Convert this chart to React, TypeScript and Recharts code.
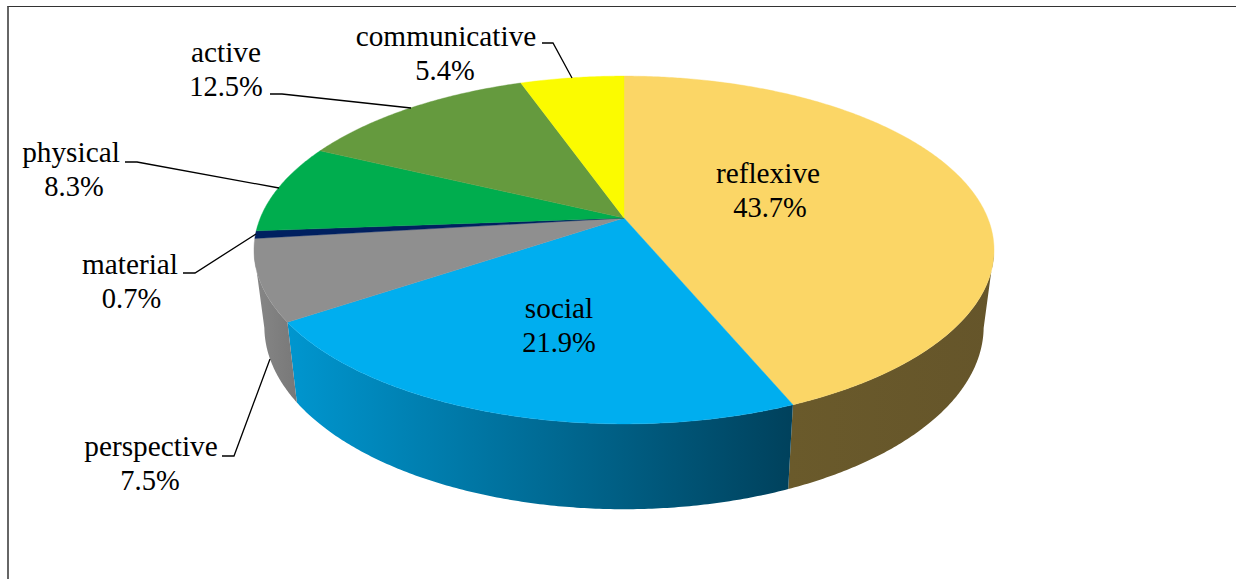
import { PieChart, Pie } from "recharts"

const names = ["reflexive", "social", "perspective", "material", "physical", "active", "communicative"]
const shares = [43.7, 21.9, 7.5, 0.7, 8.3, 12.5, 5.4]
const topColors = ["#FBD666", "#00AEEF", "#8F8F8F", "#002060", "#00AD4E", "#659A3E", "#FBFB00"]
const wallFrom = ["#6A5A2B", "#0096CF", "#878787", "#001030", "#005A28", "#335020", "#807F00"]
const wallTo = ["#65552A", "#00415C", "#787878", "#001030", "#005A28", "#335020", "#807F00"]

const data = names.map((name, i) => ({ name, value: shares[i], fill: topColors[i] }))

// label placement: name centre, percent centre, first baseline, optional leader polyline
const labelLayout: { x: number; px: number; y: number; line?: string }[] = [
  { x: 768, px: 770, y: 183 },
  { x: 559, px: 559, y: 318 },
  { x: 151, px: 150, y: 456, line: "222,456 234,456 270,359" },
  { x: 130, px: 131.5, y: 274, line: "183,273 195,273 256,234" },
  { x: 71, px: 74, y: 162, line: "125,162 137,162 279,188" },
  { x: 226, px: 226, y: 62, line: "270,94 282,94 411,108" },
  { x: 446, px: 445, y: 46, line: "542,43 553,43 572,78" },
]

// the pie is tilted with perspective, so the circle goes through a projective map
const TILT = 0.184
const SQUASH = 0.462
const DEPTH = 75
const BASE_X = 0.972
const BASE_Y = 1.05
const WALL_START = 101
const WALL_END = 259

function project(cx: number, cy: number, r: number, deg: number, lower = false) {
  const t = (deg * Math.PI) / 180
  const u = Math.sin(t)
  const v = -Math.cos(t)
  const k = 1 / (1 - TILT * v)
  if (lower) return [cx + r * u * k * BASE_X, cy + DEPTH + r * SQUASH * v * k * BASE_Y]
  return [cx + r * u * k, cy + r * SQUASH * v * k]
}

function arc(cx: number, cy: number, r: number, from: number, to: number, lower = false) {
  const pts: number[][] = []
  const n = Math.max(2, Math.ceil(Math.abs(to - from) * 2))
  for (let i = 0; i <= n; i++) pts.push(project(cx, cy, r, from + ((to - from) * i) / n, lower))
  return pts
}

const toPath = (pts: number[][]) => "M" + pts.map((p) => `${p[0].toFixed(2)},${p[1].toFixed(2)}`).join("L") + "Z"

function TiltedSlice(props: any) {
  const { cx, cy, outerRadius, startAngle, endAngle, fill, index } = props
  const a = 90 - startAngle
  const b = 90 - endAngle
  const wa = Math.max(a, WALL_START)
  const wb = Math.min(b, WALL_END)
  const hasWall = wb > wa
  const gradId = `wall-${index}`
  return (
    <g>
      {hasWall && (
        <>
          <defs>
            <linearGradient id={gradId} x1="0" y1="0" x2="1" y2="0">
              <stop offset="0%" stopColor={wallFrom[index]} />
              <stop offset="100%" stopColor={wallTo[index]} />
            </linearGradient>
          </defs>
          <path
            d={toPath([...arc(cx, cy, outerRadius, wa, wb), ...arc(cx, cy, outerRadius, wb, wa, true)])}
            fill={`url(#${gradId})`}
          />
        </>
      )}
      <path
        d={toPath([[cx, cy], ...arc(cx, cy, outerRadius, a, b)])}
        fill={fill}
        stroke={fill}
        strokeWidth={0.4}
      />
    </g>
  )
}

function SliceLabel(props: any) {
  const { index, name, value } = props
  const spot = labelLayout[index]
  return (
    <g>
      {spot.line && <polyline points={spot.line} fill="none" stroke="#000" strokeWidth={1.3} />}
      <text x={spot.x} y={spot.y} textAnchor="middle" fill="#000" fontFamily="'Liberation Serif'" fontSize={29.3}>
        {name}
      </text>
      <text x={spot.px} y={spot.y + 33.5} textAnchor="middle" fill="#000" fontFamily="'Liberation Serif'" fontSize={28.5}>
        {value.toFixed(1)}%
      </text>
    </g>
  )
}

export default function App() {
  return (
    <div style={{ position: "absolute", left: 0, top: 0, width: 1236, height: 579, background: "#fff", overflow: "hidden" }}>
      <div
        style={{
          position: "absolute",
          left: 7,
          top: 6,
          width: 1229,
          height: 573,
          boxSizing: "border-box",
          borderTop: "1.5px solid #333",
          borderLeft: "2px solid #666",
        }}
      />
      <div style={{ position: "absolute", left: 0, top: 0 }}>
        <PieChart width={1236} height={579} margin={{ top: 0, right: 0, bottom: 0, left: 0 }}>
          <Pie
            data={data}
            dataKey="value"
            nameKey="name"
            cx={624}
            cy={218}
            innerRadius={0}
            outerRadius={363.7}
            startAngle={90}
            endAngle={-270}
            stroke="none"
            isAnimationActive={false}
            shape={TiltedSlice}
            label={SliceLabel}
            labelLine={false}
          />
        </PieChart>
      </div>
    </div>
  )
}
